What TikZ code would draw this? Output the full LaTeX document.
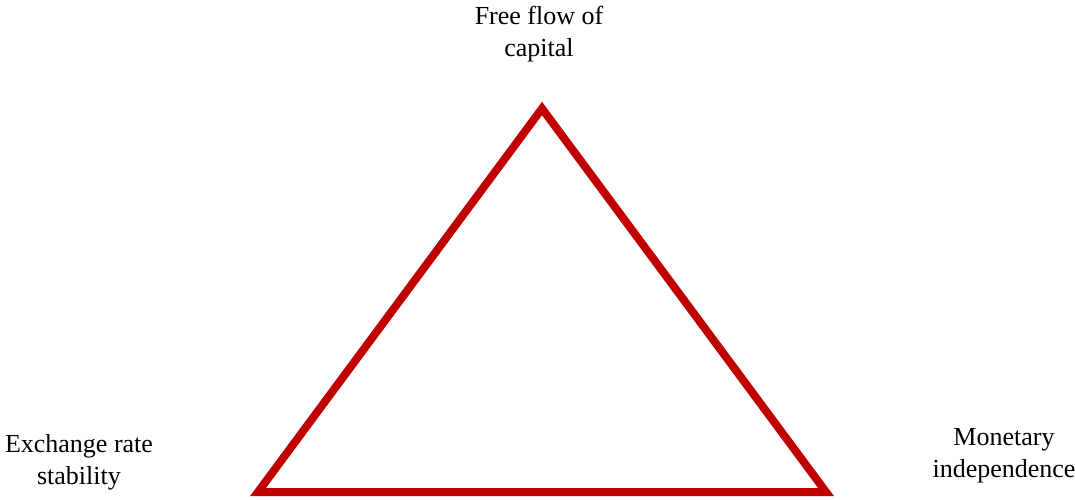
\documentclass[tikz,border=0pt]{standalone}
\usepackage{fontspec}
\setmainfont{Liberation Serif}
\definecolor{trired}{RGB}{192,0,0}
\begin{document}
\begin{tikzpicture}[x=1pt,y=-1pt,
  lbl/.style={align=center,inner sep=0pt,anchor=base,font=\fontsize{26}{32}\selectfont},
  edge/.style={draw=trired,line width=8pt,line join=miter}]
\useasboundingbox (0,0) rectangle (1075,500);
\coordinate (top) at (542,108.5);
\coordinate (bl) at (258,492);
\coordinate (br) at (826,492);
\draw[edge] (top) -- (br) -- (bl) -- cycle;
\node[lbl] (cap1) at (539,25) {Free flow of};
\node[lbl] (cap2) at (539,57) {capital};
\node[lbl] (ex1) at (79,452) {Exchange rate};
\node[lbl] (ex2) at (79,484) {stability};
\node[lbl] (mo1) at (1004,445) {Monetary};
\node[lbl] (mo2) at (1004,477) {independence};
\end{tikzpicture}
\end{document}
